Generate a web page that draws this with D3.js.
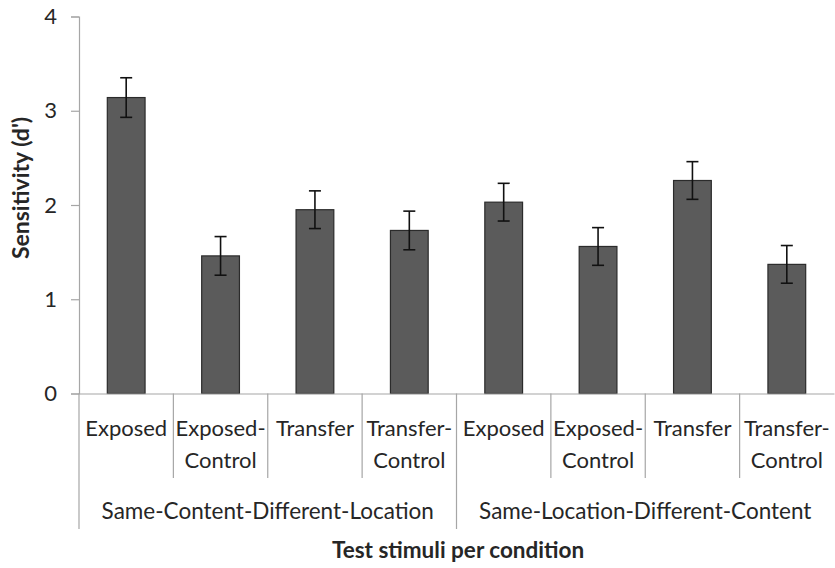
<!DOCTYPE html>
<html><head><meta charset="utf-8">
<script src="https://cdn.jsdelivr.net/npm/d3@7"></script>
<style>body{margin:0;background:#fff}svg{display:block}text{font-family:Lato,"Open Sans",sans-serif;fill:#262626}</style>
</head><body>
<svg id="c" width="835" height="568"></svg>
<script>
const groups = ["Same-Content-Different-Location", "Same-Location-Different-Content"];
const categories = ["Exposed", "Exposed-Control", "Transfer", "Transfer-Control"];
const labelLines = [["Exposed"], ["Exposed-", "Control"], ["Transfer"], ["Transfer-", "Control"]];
const values = [3.14, 1.46, 1.95, 1.73, 2.03, 1.56, 2.26, 1.37];
const errors = [0.21, 0.205, 0.2, 0.205, 0.2, 0.2, 0.2, 0.2];
const yTicks = [0, 1, 2, 3, 4];

const svg = d3.select("#c");
const L = 79, R = 834, T = 16.5, B = 393.5;
const keys = d3.range(values.length);
const x = d3.scaleBand().domain(keys).range([L, R]).paddingInner(0.6).paddingOuter(0.3);
const xc = d3.scaleBand().domain(keys).range([L, R]);
const y = d3.scaleLinear().domain([0, 4]).range([B, T]);

// y axis
const ya = svg.append("g").attr("transform", `translate(${L},0)`)
  .call(d3.axisLeft(y).tickValues(yTicks).tickSize(8).tickPadding(14).tickFormat(d3.format("d")));
ya.select(".domain").attr("stroke", "#a6a6a6").attr("stroke-width", 1.2);
ya.selectAll(".tick line").attr("stroke", "#a6a6a6").attr("stroke-width", 1.2);
ya.selectAll(".tick text").attr("font-size", 22).attr("font-family", "Lato").attr("fill", "#262626");

// bars
svg.append("g").selectAll("rect").data(values).join("rect")
  .attr("x", (d, i) => x(i)).attr("width", x.bandwidth())
  .attr("y", d => y(d)).attr("height", d => y(0) - y(d))
  .attr("fill", "#5b5b5b").attr("stroke", "#2b2b2b").attr("stroke-width", 1.2);

// error bars
const eg = svg.append("g").attr("stroke", "#111").attr("stroke-width", 1.6);
values.forEach((v, i) => {
  const cx = x(i) + x.bandwidth() / 2;
  eg.append("line").attr("x1", cx).attr("x2", cx).attr("y1", y(v + errors[i])).attr("y2", y(v - errors[i]));
  eg.append("line").attr("x1", cx - 6).attr("x2", cx + 6).attr("y1", y(v + errors[i])).attr("y2", y(v + errors[i]));
  eg.append("line").attr("x1", cx - 6).attr("x2", cx + 6).attr("y1", y(v - errors[i])).attr("y2", y(v - errors[i]));
});

// x axis baseline
const xa = svg.append("g").attr("transform", `translate(0,${y(0)})`)
  .call(d3.axisBottom(xc).tickSize(0).tickFormat(""));
xa.select(".domain").attr("stroke", "#a6a6a6").attr("stroke-width", 1.2);

// separators
const sep = svg.append("g").attr("stroke", "#a6a6a6").attr("stroke-width", 1.2);
keys.forEach(i => {
  const xx = xc(i);
  const major = i % categories.length === 0;
  sep.append("line").attr("x1", xx).attr("x2", xx).attr("y1", y(0)).attr("y2", major ? 529 : 478);
});

// category labels
keys.forEach(i => {
  const lines = labelLines[i % categories.length];
  const cx = xc(i) + xc.bandwidth() / 2;
  lines.forEach((t, j) => {
    svg.append("text").attr("x", cx).attr("y", 436 + j * 32).attr("text-anchor", "middle")
      .attr("font-size", 22).text(t);
  });
});
// group labels
groups.forEach((g, gi) => {
  const x0 = xc(gi * categories.length), x1 = xc(gi * categories.length + categories.length - 1) + xc.bandwidth();
  svg.append("text").attr("x", (x0 + x1) / 2).attr("y", 519).attr("text-anchor", "middle")
    .attr("font-size", 22.5).text(g);
});

// titles
svg.append("text").attr("x", 458).attr("y", 558).attr("text-anchor", "middle")
  .attr("font-size", 22.5).attr("font-weight", "bold").attr("fill", "#000").text("Test stimuli per condition");
svg.append("text").attr("transform", "translate(28.5,188) rotate(-90)").attr("text-anchor", "middle")
  .attr("font-size", 23).attr("font-weight", "bold").attr("fill", "#000").text("Sensitivity (d')");
</script>
</body></html>
